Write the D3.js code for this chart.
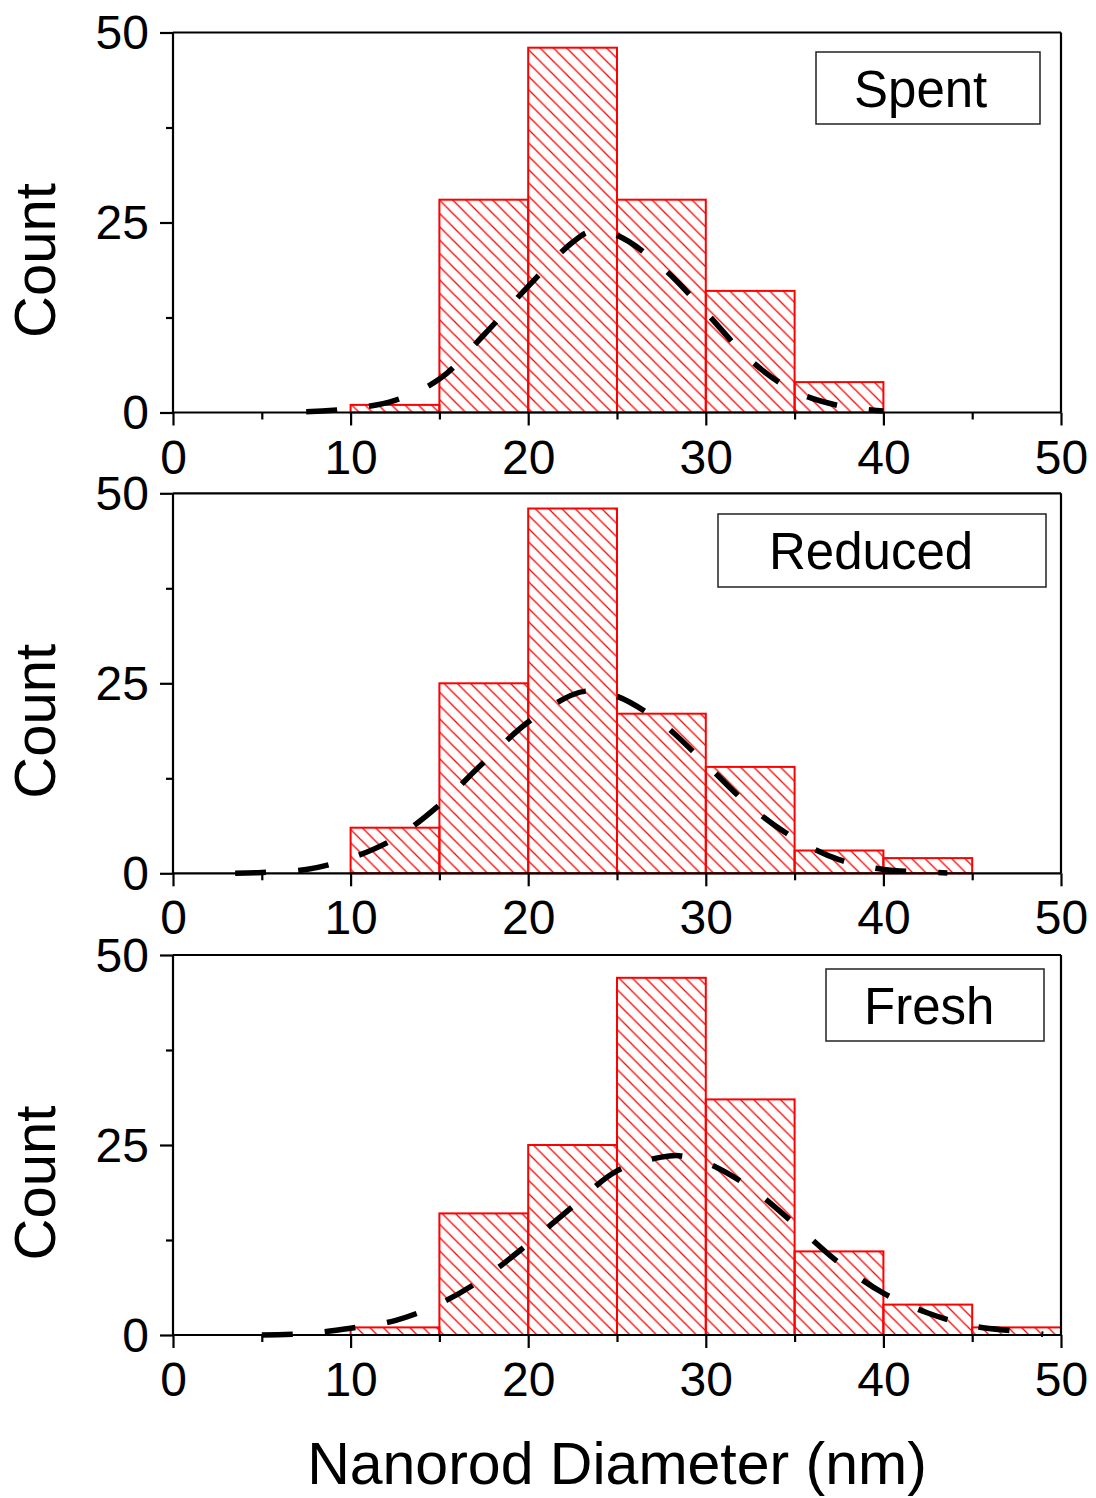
<!DOCTYPE html>
<html>
<head>
<meta charset="utf-8">
<script src="https://cdn.jsdelivr.net/npm/d3@7"></script>
<style>
  body { margin: 0; background: #fff; }
  svg { display: block; }
  text { font-family: "Liberation Sans", Arial, sans-serif; fill: #000; }
</style>
</head>
<body>
<svg id="chart" width="1096" height="1498"></svg>
<script>
// ---- data ----
const sampleNames = ["Spent", "Reduced", "Fresh"];
const binStarts = [10, 15, 20, 25, 30, 35, 40, 45];
const binWidth = 5;
const spentCounts   = [1, 28, 48, 28, 16, 4, 0, 0];
const reducedCounts = [6, 25, 48, 21, 14, 3, 2, 0];
const freshCounts   = [1, 16, 25, 47, 31, 11, 4, 1];

// distribution fit curves (diameter, count)
const spentFitX   = [7.5, 10, 12.5, 15, 17.5, 20, 22.5, 23.5, 25, 27.5, 30, 32.5, 35, 37.5, 40];
const spentFitY   = [0.1, 0.5, 1.6, 4.4, 10.2, 16.6, 22.4, 23.8, 23.3, 19.2, 13.2, 6.9, 2.8, 0.9, 0.2];
const reducedFitX = [3.5, 5, 7.5, 10, 12.5, 15, 17.5, 20, 22.5, 23.5, 25, 27.5, 30, 32.5, 35, 37.5, 40, 42.5, 43.6];
const reducedFitY = [0, 0.1, 0.5, 2.0, 4.6, 9.0, 14.6, 19.9, 23.5, 24.0, 23.3, 19.8, 14.4, 8.8, 4.6, 1.8, 0.5, 0.15, 0.05];
const freshFitX   = [5, 7.5, 10, 12.5, 15, 17.5, 20, 22.5, 25, 27.5, 28.5, 30, 32.5, 35, 37.5, 40, 42.5, 45, 47.5, 49];
const freshFitY   = [0, 0.2, 0.9, 1.9, 4.1, 7.5, 12.0, 16.9, 21.6, 23.4, 23.6, 22.7, 19.4, 14.6, 9.5, 5.5, 2.9, 1.2, 0.5, 0.1];

const xTickValues = [0, 10, 20, 30, 40, 50];
const xMinorTicks = [5, 15, 25, 35, 45];
const yTickValues = [0, 25, 50];
const yMinorTicks = [12.5, 37.5];
const yAxisTitle = "Count";
const xAxisTitle = "Nanorod Diameter (nm)";

const countsBySample = [spentCounts, reducedCounts, freshCounts];
const fitBySample = [
  [spentFitX, spentFitY],
  [reducedFitX, reducedFitY],
  [freshFitX, freshFitY]
];

// ---- layout ----
const plotLeft = 173, plotRight = 1061;
const panelTops = [32.5, 493.3, 955];
const panelHeight = 380;
// legend box: [x, y offset from panel top, width, height, text x offset]
const legendBoxes = [
  [816, 19.5, 224, 72, 38],
  [718, 20.7, 328, 73, 51],
  [826, 14, 218, 72, 38]
];
const fontTick = 48, fontTitle = 58, fontLegend = 51;
const barRed = "#ff0000";

const svg = d3.select("#chart");

// diagonal hatch used to fill the histogram bars
const defs = svg.append("defs");
const hs = 13.3;
const pat = defs.append("pattern")
  .attr("id", "hatch")
  .attr("patternUnits", "userSpaceOnUse")
  .attr("width", hs).attr("height", hs);
pat.append("path")
  .attr("d", `M-2,-2 L${hs + 2},${hs + 2} M${hs - 2},-2 L${hs + 2},2 M-2,${hs - 2} L2,${hs + 2}`)
  .attr("stroke", barRed)
  .attr("stroke-width", 1.3)
  .attr("fill", "none");

const x = d3.scaleLinear().domain([0, 50]).range([plotLeft, plotRight]);

sampleNames.forEach((name, i) => {
  const top = panelTops[i];
  const y = d3.scaleLinear().domain([0, 50]).range([top + panelHeight, top]);
  const g = svg.append("g");
  const counts = countsBySample[i];
  const bins = binStarts.map((b, j) => ({ x0: b, x1: b + binWidth, n: counts[j] }))
    .filter(d => d.n > 0);

  // bars
  g.selectAll("rect.bar").data(bins).enter().append("rect")
    .attr("class", "bar")
    .attr("x", d => x(d.x0))
    .attr("y", d => y(d.n))
    .attr("width", d => x(d.x1) - x(d.x0))
    .attr("height", d => y(0) - y(d.n))
    .attr("fill", "url(#hatch)")
    .attr("stroke", barRed)
    .attr("stroke-width", 2);

  // frame
  const frame = g.append("g").attr("stroke", "#000").attr("stroke-width", 2.2).attr("fill", "none");
  frame.append("line").attr("x1", x(0)).attr("x2", x(50)).attr("y1", y(50)).attr("y2", y(50));
  frame.append("line").attr("x1", x(50)).attr("x2", x(50)).attr("y1", y(50)).attr("y2", y(0));
  frame.append("line").attr("x1", x(0)).attr("x2", x(0)).attr("y1", y(50)).attr("y2", y(0));
  frame.append("line").attr("x1", x(0)).attr("x2", x(50)).attr("y1", y(0)).attr("y2", y(0));

  // x axis
  const xAxis = g.append("g").attr("transform", `translate(0,${y(0)})`)
    .call(d3.axisBottom(x).tickValues(xTickValues).tickSize(13).tickSizeOuter(0).tickFormat(d3.format("d")));
  xAxis.append("g").call(d3.axisBottom(x).tickValues(xMinorTicks).tickSize(7).tickSizeOuter(0).tickFormat(""));
  xAxis.selectAll(".domain").remove();
  xAxis.selectAll("line").attr("stroke", "#000").attr("stroke-width", 2.2);
  xAxis.selectAll("text")
    .attr("y", 61).attr("dy", null)
    .style("font-size", fontTick + "px")
    .attr("fill", "#000");

  // y axis
  const yAxis = g.append("g").attr("transform", `translate(${x(0)},0)`)
    .call(d3.axisLeft(y).tickValues(yTickValues).tickSize(13).tickSizeOuter(0).tickFormat(d3.format("d")));
  yAxis.append("g").call(d3.axisLeft(y).tickValues(yMinorTicks).tickSize(7).tickSizeOuter(0).tickFormat(""));
  yAxis.selectAll(".domain").remove();
  yAxis.selectAll("line").attr("stroke", "#000").attr("stroke-width", 2.2);
  yAxis.selectAll("text")
    .attr("x", -24).attr("dy", "0.34em")
    .style("font-size", fontTick + "px")
    .attr("fill", "#000");

  // fitted distribution curve
  const [fx, fy] = fitBySample[i];
  const pts = fx.map((v, j) => [v, fy[j]]);
  const line = d3.line().x(d => x(d[0])).y(d => y(d[1])).curve(d3.curveCatmullRom.alpha(0.5));
  g.append("path")
    .attr("d", line(pts))
    .attr("fill", "none")
    .attr("stroke", "#000")
    .attr("stroke-width", 5.5)
    .attr("stroke-dasharray", "31 32");

  // sample legend box
  const [lx, ly, lw, lh, tx] = legendBoxes[i];
  g.append("rect")
    .attr("x", lx).attr("y", top + ly).attr("width", lw).attr("height", lh)
    .attr("fill", "#fff").attr("stroke", "#222").attr("stroke-width", 1.5);
  g.append("text")
    .attr("x", lx + tx).attr("y", top + ly + 55)
    .style("font-size", fontLegend + "px")
    .text(name);

  // y axis title
  g.append("text")
    .attr("transform", `translate(55,${top + 228}) rotate(-90)`)
    .attr("text-anchor", "middle")
    .style("font-size", fontTitle + "px")
    .text(yAxisTitle);
});

// x axis title
svg.append("text")
  .attr("x", (plotLeft + plotRight) / 2)
  .attr("y", 1484)
  .attr("text-anchor", "middle")
  .style("font-size", "59px")
  .text(xAxisTitle);
</script>
</body>
</html>
